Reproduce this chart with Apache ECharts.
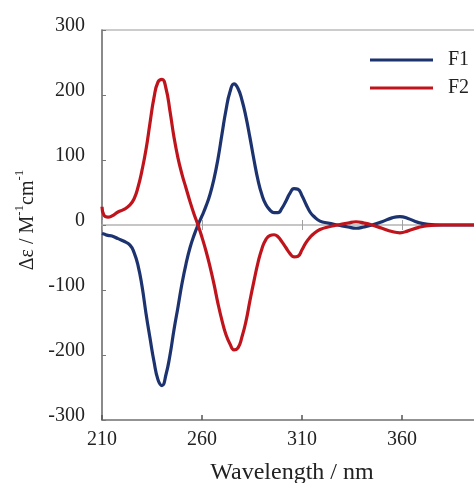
<!DOCTYPE html>
<html>
<head>
<meta charset="utf-8">
<script src="https://cdn.jsdelivr.net/npm/echarts@6/dist/echarts.min.js"></script>
<style>
html,body{margin:0;padding:0;background:#fff;}
#chart{width:474px;height:483px;}
</style>
</head>
<body>
<div id="chart"></div>
<script>
// Wavelength (nm)
var wavelengths = [210,211,213,215,218,221,224,226,228,230,232,234,236,238,240,242,244,246,248,250,252,254,256,258,260,262,264,266,268,270,272,274,276,278,280,282,284,286,288,290,292,294,296,298,300,302,304,306,308,310,312,314,316,319,323,328,333,337,341,345,350,355,359,363,368,373,380,390,400,410];
// Δε (M^-1 cm^-1)
var f1 = [-13,-14,-16,-17,-21,-25,-31,-42,-62,-94,-136,-174,-210,-238,-247,-230,-200,-161,-126,-90,-60,-35,-16,0,14,29,47,71,102,140,177,205,217,210,192,166,134,100,69,46,31,23,19,19,26,37,49,56,55,45,32,20,13,6,3,0,-3,-5,-3,0,5,11,13,10,4,1,0,0,0,0];
var f2 = [28,15,12,14,20,24,31,40,58,84,116,157,196,220,224,210,175,135,103,78,57,36,17,0,-19,-40,-64,-91,-121,-147,-169,-183,-192,-189,-172,-148,-116,-86,-58,-36,-22,-16,-15,-18,-26,-35,-44,-49,-48,-38,-27,-19,-13,-7,-3,0,3,5,3,0,-5,-10,-12,-9,-4,-1,0,0,0,0];
var seriesNames = ['F1','F2'];
var xTicks = [210,260,310,360];
var yTicks = [-300,-200,-100,0,100,200,300];

var serif = '"Liberation Serif", "Times New Roman", serif';
var txt = '#222';
function pairs(ys){ return wavelengths.map(function(x,i){ return [x, ys[i]]; }); }

var chart = echarts.init(document.getElementById('chart'), null, {renderer:'canvas'});
var axisBase = {
  type:'value', min:210, max:410, interval:50
};
chart.setOption({
  animation:false,
  backgroundColor:'#fff',
  grid:{left:102, top:30, right:-28, bottom:63, show:true, borderColor:'#9a9a9a', borderWidth:1.2, outerBoundsMode:'none'},
  legend:{
    data:seriesNames, orient:'vertical', left:370, top:46, padding:0, itemGap:0,
    icon:'rect', itemWidth:63, itemHeight:3,
    textStyle:{fontFamily:serif, fontSize:20, color:txt, lineHeight:18, padding:[0,0,10,10]}
  },
  xAxis:[
    Object.assign({}, axisBase, {
      position:'bottom',
      name:'Wavelength / nm', nameLocation:'middle', nameGap:41,
      nameTextStyle:{fontFamily:serif, fontSize:24, color:txt, padding:[0,20,0,0]},
      axisLine:{show:true, onZero:false, lineStyle:{color:'#808080', width:1.5}},
      axisTick:{show:true, inside:true, length:5, lineStyle:{color:'#555', width:1.5}},
      axisLabel:{fontFamily:serif, fontSize:20, color:txt, margin:10,
        formatter:function(v){ return xTicks.indexOf(v) >= 0 ? String(v) : ''; }},
      splitLine:{show:false}
    }),
    Object.assign({}, axisBase, {
      position:'bottom', offset:-195,
      axisLine:{show:true, onZero:false, lineStyle:{color:'#b4b4b4', width:1.5}},
      axisTick:{show:true, inside:true, length:5, lineStyle:{color:'#a0a0a0', width:1}},
      axisLabel:{show:false}, splitLine:{show:false}
    }),
    Object.assign({}, axisBase, {
      position:'bottom', offset:-195,
      axisLine:{show:false, onZero:false},
      axisTick:{show:true, inside:false, length:5, lineStyle:{color:'#a0a0a0', width:1}},
      axisLabel:{show:false}, splitLine:{show:false}
    })
  ],
  yAxis:{
    type:'value', min:-300, max:300, interval:100,
    name:'{n|Δε / M}{s|-1}{n|cm}{s|-1}', nameLocation:'middle', nameGap:64,
    nameTextStyle:{
      fontFamily:serif, fontSize:20, color:txt, padding:[0,0,0,10],
      rich:{
        n:{fontFamily:serif, fontSize:20, color:txt, verticalAlign:'bottom', lineHeight:24},
        s:{fontFamily:serif, fontSize:13, color:txt, verticalAlign:'top', lineHeight:24}
      }
    },
    axisLine:{show:true, onZero:false, lineStyle:{color:'#777', width:1.5}},
    axisTick:{show:true, inside:true, length:4, lineStyle:{color:'#777', width:1}},
    axisLabel:{fontFamily:serif, fontSize:20, color:txt, margin:17, verticalAlign:'bottom', lineHeight:8,
      formatter:function(v){ return yTicks.indexOf(v) >= 0 ? String(v) : ''; }},
    splitLine:{show:false}
  },
  series:[
    {name:seriesNames[0], type:'line', xAxisIndex:0, data:pairs(f1), smooth:true, showSymbol:false, symbol:'none',
      lineStyle:{color:'#1d3370', width:3.2}, itemStyle:{color:'#1d3370'}, z:3},
    {name:seriesNames[1], type:'line', xAxisIndex:0, data:pairs(f2), smooth:true, showSymbol:false, symbol:'none',
      lineStyle:{color:'#c0141c', width:3.2}, itemStyle:{color:'#c0141c'}, z:4}
  ]
});
</script>
</body>
</html>
